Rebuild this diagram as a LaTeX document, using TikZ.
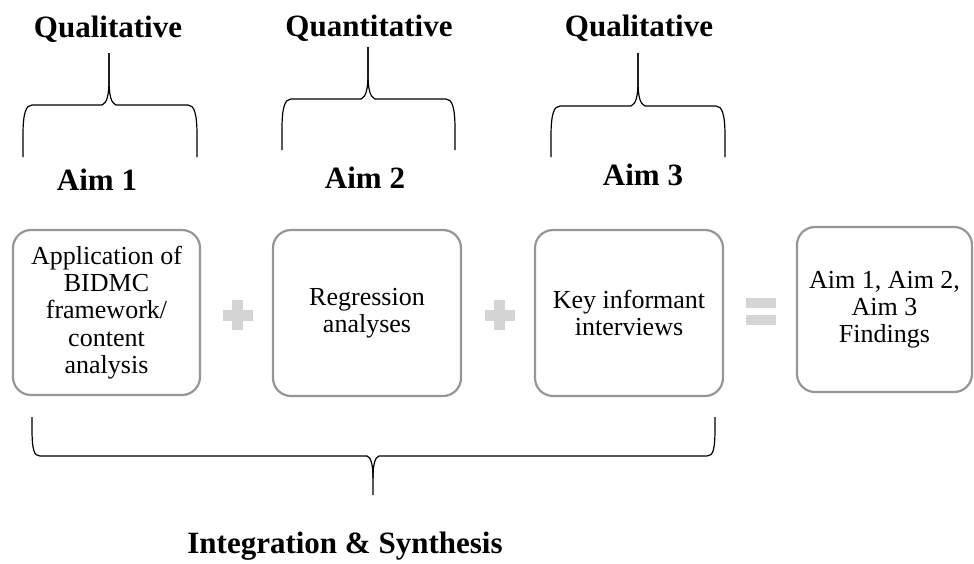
\documentclass[tikz,border=0pt]{standalone}
\usepackage{fontspec}
\setmainfont{Liberation Serif}
\definecolor{boxgray}{RGB}{150,150,150}
\definecolor{symgray}{RGB}{212,212,212}
\newcommand\topbrace[6]{%
  \draw[bracestyle] (#1,#3) -- (#1,{#4+30}) .. controls (#1,{#4+8}) and ({#1+3},#4) .. ({#1+9},#4)
     -- ({#5-7},#4) .. controls ({#5-2},{#4-2}) and (#5,{#4-10}) .. (#5,{#4-25}) -- (#5,#6);
  \draw[bracestyle] (#2,#3) -- (#2,{#4+30}) .. controls (#2,{#4+8}) and ({#2-3},#4) .. ({#2-9},#4)
     -- ({#5+7},#4) .. controls ({#5+2},{#4-2}) and (#5,{#4-10}) .. (#5,{#4-25}) -- (#5,#6);
}
\begin{document}
\begin{tikzpicture}[x=1pt,y=-1pt,
  head/.style={font=\fontsize{31}{31}\selectfont\bfseries, anchor=base, inner sep=0pt},
  box/.style={draw=boxgray, line width=2.2pt, rounded corners=18pt, fill=white,
    align=center, font=\fontsize{26}{27.2}\selectfont, inner sep=2pt},
  bracestyle/.style={draw=black, line width=1.2pt},
  sym/.style={fill=symgray, draw=none}]
\useasboundingbox (0,0) rectangle (974,563);

% headings
\node[head] (q1) at (108,37) {Qualitative};
\node[head] (q2) at (369,36) {Quantitative};
\node[head] (q3) at (639,36) {Qualitative};

% top braces
\topbrace{23}{197}{157}{105}{109}{53}
\topbrace{282}{455}{150}{99}{368}{47}
\topbrace{551}{725}{157}{106}{638}{53}

% aim labels
\node[head] (a1) at (97,190) {Aim 1};
\node[head] (a2) at (365,188) {Aim 2};
\node[head] (a3) at (643,185) {Aim 3};

% boxes
\node[box, minimum width=187pt, minimum height=165pt] (b1) at (106.5,312.5)
  {Application of\\BIDMC\\framework/\\content\\analysis};
\node[box, minimum width=188pt, minimum height=166pt] (b2) at (367,313)
  {Regression\\analyses};
\node[box, minimum width=188pt, minimum height=166pt] (b3) at (629,313)
  {Key informant\\interviews};
\node[box, minimum width=175pt, minimum height=165pt] (b4) at (884.5,309.5)
  {Aim 1, Aim 2,\\Aim 3\\Findings};

% plus signs
\fill[sym] (222.5,309.5) rectangle (252.5,320.5);
\fill[sym] (232,300) rectangle (243,330);
\fill[sym] (484.5,309.5) rectangle (514.5,320.5);
\fill[sym] (494,300) rectangle (505,330);
% equals sign
\fill[sym] (746,298) rectangle (776,308);
\fill[sym] (746,315) rectangle (776,325);

% bottom brace
\draw[bracestyle] (32,417) -- (32,428) .. controls (32,450) and (34,456) .. (40,456)
   -- (367,456) .. controls (371,457) and (373,465) .. (373,478) -- (373,495);
\draw[bracestyle] (715,417) -- (715,428) .. controls (715,450) and (713,456) .. (707,456)
   -- (379,456) .. controls (375,457) and (373,465) .. (373,478);

\node[head] (is) at (345,553) {Integration \& Synthesis};
\end{tikzpicture}
\end{document}
